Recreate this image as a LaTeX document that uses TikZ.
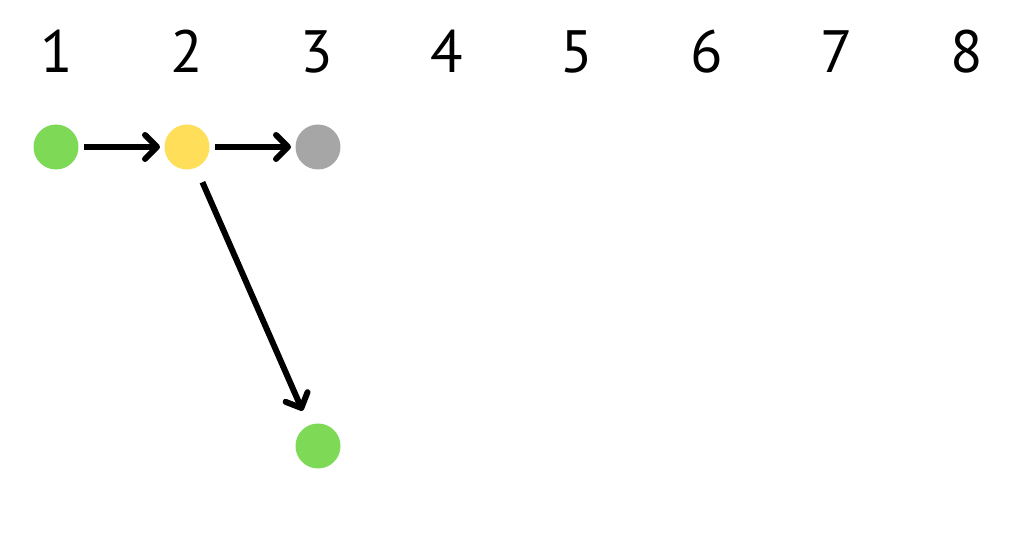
\documentclass[tikz,border=0pt]{standalone}
\usepackage{fontspec}
\setmainfont{PT Sans}
\usetikzlibrary{arrows.meta}
\usepackage{xcolor}
\definecolor{stgreen}{HTML}{7ED957}
\definecolor{styellow}{HTML}{FFDE59}
\definecolor{stgray}{HTML}{A6A6A6}

\begin{document}
\begin{tikzpicture}[
  x=0.02cm,y=-0.02cm,
  state/.style={circle,draw=none,minimum size=0.9cm,inner sep=0pt,outer sep=0pt},
  num/.style={anchor=base,font=\fontsize{34}{38}\selectfont,text=black},
  link/.style={draw=black,line width=3.4pt,
    -{Straight Barb[round,length=2.4mm,width=4.8mm]}}
]
  \useasboundingbox (0,0) rectangle (1024,553);
  \foreach \i in {1,...,8}
    \node[num] (col\i) at ({56.5+130*(\i-1)},73) {\i};
  \node[state,fill=stgreen] (n1) at (56,147) {};
  \node[state,fill=styellow] (n2) at (187,147) {};
  \node[state,fill=stgray] (n3) at (318,147) {};
  \node[state,fill=stgreen] (n4) at (318,446) {};
  \draw[link,shorten <=0.11cm,shorten >=0.09cm] (n1)--(n2);
  \draw[link,shorten <=0.11cm,shorten >=0.09cm] (n2)--(n3);
  \draw[link,shorten <=0.32cm,shorten >=0.32cm] (n2)--(n4);
\end{tikzpicture}
\end{document}
